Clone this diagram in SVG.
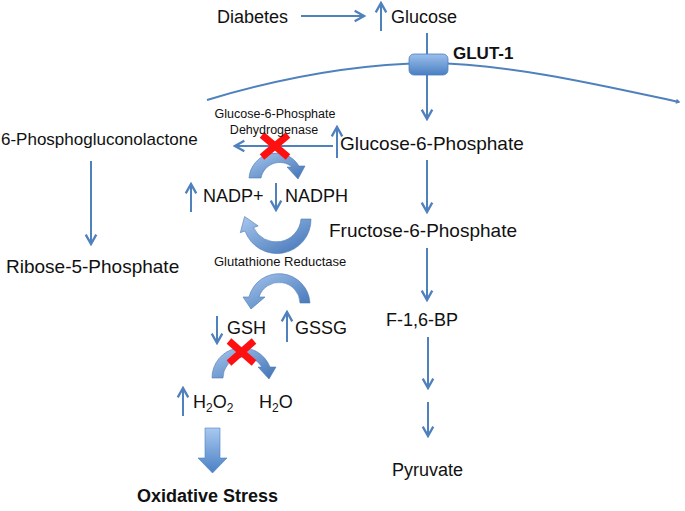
<svg xmlns="http://www.w3.org/2000/svg" width="685" height="511" viewBox="0 0 685 511">
<defs>
<style>
text{font-family:"Liberation Sans",Arial,sans-serif;fill:#111;font-size:18px}
.sm{font-size:12.5px}
.b{font-weight:bold}
.ln{stroke:#4f81bd;stroke-width:2;fill:none}
.ar{marker-end:url(#ah)}
.x{stroke:#ff1010;stroke-width:7;fill:none}
.cv{fill:url(#g1);stroke:#4a78b5;stroke-width:0.6}
</style>
<marker id="ah" markerUnits="userSpaceOnUse" markerWidth="14" markerHeight="14" refX="0" refY="0" viewBox="-10 -6 12 12" orient="auto">
<path d="M-8,-4.5 L0,0 L-8,4.5" fill="none" stroke="#4f81bd" stroke-width="2"/>
</marker>
<marker id="ahs" markerUnits="userSpaceOnUse" markerWidth="6" markerHeight="6" refX="0" refY="0" viewBox="-4 -3 5 6" orient="auto">
<path d="M-3,-1.8 L0,0 L-3,1.8" fill="none" stroke="#4f81bd" stroke-width="1.5"/>
</marker>
<linearGradient id="g1" x1="0" y1="0" x2="1" y2="1">
<stop offset="0" stop-color="#a9c8ee"/>
<stop offset="1" stop-color="#3f72b6"/>
</linearGradient>
<linearGradient id="g2" x1="0" y1="0" x2="0" y2="1">
<stop offset="0" stop-color="#9cc0ec"/>
<stop offset="1" stop-color="#4a7fc2"/>
</linearGradient>
<linearGradient id="g3" x1="0" y1="0" x2="0" y2="1">
<stop offset="0" stop-color="#a8c9f0"/>
<stop offset="1" stop-color="#4b80c4"/>
</linearGradient>
</defs>
<rect width="685" height="511" fill="#fff"/>

<g id="membrane">
<path class="ln" d="M207,100 C300,72 370,64 428,63 C510,64 600,85 679,102" marker-end="url(#ahs)"/>
</g>

<g id="connectors">
<line class="ln ar" x1="301" y1="16" x2="364" y2="16"/>
<line class="ln ar" x1="427" y1="33" x2="427" y2="119"/>
<line class="ln ar" x1="333" y1="146" x2="235" y2="146"/>
<line class="ln ar" x1="91" y1="161" x2="91" y2="244"/>
<line class="ln ar" x1="427" y1="160" x2="427" y2="212"/>
<line class="ln ar" x1="427" y1="248" x2="427" y2="300"/>
<line class="ln ar" x1="428" y1="337" x2="428" y2="388"/>
<line class="ln ar" x1="428" y1="402" x2="428" y2="436"/>
<line class="ln ar" x1="381" y1="31" x2="381" y2="3"/>
<line class="ln ar" x1="337" y1="158" x2="337" y2="127"/>
<line class="ln ar" x1="191" y1="212" x2="191" y2="184"/>
<line class="ln ar" x1="276" y1="183" x2="276" y2="210"/>
<line class="ln ar" x1="217" y1="316" x2="217" y2="343"/>
<line class="ln ar" x1="287" y1="342" x2="287" y2="312"/>
<line class="ln ar" x1="183" y1="416" x2="183" y2="388"/>
<path class="cv" d="M249,178 A27,27 0 0 1 299,166 L305,166 L298,179 L287,167 L292,167 A19,19 0 0 0 261,178 Z"/>
<path class="cv" d="M311,219 A34,34 0 0 1 245,231 L240.3,232.7 L244.6,216.5 L258.2,225.9 L253.5,227.6 A25,25 0 0 0 301,219 Z"/>
<path class="cv" d="M310,303 A31,31 0 0 0 249,297 L243,297 L251,309 L265,297 L259,297 A21,21 0 0 1 300,303 Z"/>
<path class="cv" d="M212,378 A30,30 0 0 1 270,367 L276,367 L269,379 L258,367 L262,367 A21,21 0 0 0 223,378 Z"/>
<path d="M205,428 H220 V458 H227 L212.5,473 L198,458 H205 Z" fill="url(#g3)" stroke="#4a7fc2" stroke-width="0.6"/>
<path class="x" d="M262,135 L288,157 M288,135 L262,157"/>
<path class="x" d="M229,341 L254,363 M254,341 L229,363"/>
</g>

<g id="glut1">
<rect x="409" y="54" width="39" height="21" rx="5" fill="url(#g2)" stroke="#4a7fc2" stroke-width="0.8"/>
<text x="453" y="59" class="b" style="font-size:17px">GLUT-1</text>
</g>
<g id="diabetes"><text x="217" y="23">Diabetes</text></g>
<g id="glucose"><text x="391" y="23">Glucose</text></g>
<g id="g6pd"><text class="sm" x="275" y="118" text-anchor="middle">Glucose-6-Phosphate</text><text class="sm" x="274" y="134" text-anchor="middle">Dehydrogenase</text></g>
<g id="pgl"><text x="1" y="145" style="font-size:17px">6-Phosphogluconolactone</text></g>
<g id="g6p"><text x="340" y="150" style="font-size:19px">Glucose-6-Phosphate</text></g>
<g id="nadp"><text x="203" y="202">NADP+</text></g>
<g id="nadph"><text x="285" y="202">NADPH</text></g>
<g id="f6p"><text x="329" y="237" style="font-size:19px">Fructose-6-Phosphate</text></g>
<g id="r5p"><text x="6" y="273" style="font-size:19px">Ribose-5-Phosphate</text></g>
<g id="gr"><text x="214" y="266" style="font-size:13px">Glutathione Reductase</text></g>
<g id="gsh"><text x="227" y="334">GSH</text></g>
<g id="gssg"><text x="295" y="334">GSSG</text></g>
<g id="f16bp"><text x="386" y="326">F-1,6-BP</text></g>
<g id="h2o2"><text x="193" y="408">H<tspan dy="4" style="font-size:12px">2</tspan><tspan dy="-4">O</tspan><tspan dy="4" style="font-size:12px">2</tspan></text></g>
<g id="h2o"><text x="259" y="408">H<tspan dy="4" style="font-size:12px">2</tspan><tspan dy="-4">O</tspan></text></g>
<g id="pyruvate"><text x="392" y="476">Pyruvate</text></g>
<g id="stress"><text x="137" y="502" class="b">Oxidative Stress</text></g>
</svg>
